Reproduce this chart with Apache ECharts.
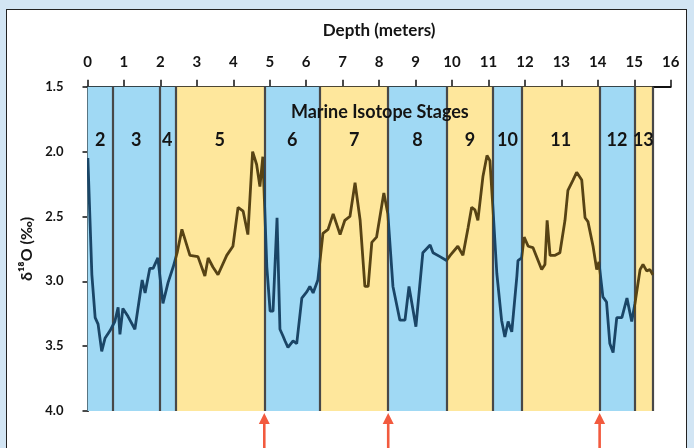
<!DOCTYPE html>
<html><head><meta charset="utf-8">
<script src="https://cdn.jsdelivr.net/npm/echarts@6/dist/echarts.min.js"></script>
<style>
html,body{margin:0;padding:0;background:#d2e5f4;width:694px;height:448px;overflow:hidden;position:relative;}
#panel{position:absolute;left:6px;top:9px;width:681px;height:460px;background:#fff;border:1.5px solid #222;box-sizing:border-box;}
#c{position:absolute;left:0;top:0;width:694px;height:448px;}
</style>
</head><body><div id="panel"></div><div id="c"></div>
<script>
// Depth (m) and δ18O (‰)
const depth = [0.01,0.12,0.21,0.29,0.39,0.48,0.62,0.75,0.84,0.89,0.97,1.11,1.30,1.50,1.58,1.71,1.80,1.93,2.07,2.21,2.35,2.46,
  2.59,2.81,3.03,3.22,3.31,3.44,3.58,3.82,3.99,4.13,4.27,4.40,4.53,4.64,4.73,4.81,
  4.92,5.01,5.09,5.20,5.28,5.36,5.42,5.50,5.64,5.74,5.88,6.02,6.10,6.19,6.32,
  6.46,6.60,6.74,6.93,7.06,7.20,7.34,7.48,7.61,7.70,7.80,7.93,8.13,8.24,
  8.38,8.57,8.71,8.82,9.01,9.20,9.40,9.48,9.67,9.85,
  9.95,10.16,10.30,10.44,10.54,10.63,10.71,10.85,10.96,11.04,11.12,
  11.23,11.36,11.45,11.54,11.64,11.78,11.81,11.91,
  11.98,12.09,12.22,12.46,12.55,12.61,12.69,12.83,12.96,13.10,13.18,13.32,13.42,13.56,13.65,13.73,13.87,13.97,14.03,
  14.14,14.24,14.33,14.42,14.52,14.66,14.80,14.93,15.02,
  15.16,15.24,15.34,15.43,15.51];
const d18O = [2.05,2.95,3.28,3.33,3.54,3.44,3.38,3.31,3.20,3.41,3.21,3.27,3.37,2.99,3.09,2.90,2.90,2.82,3.17,3.01,2.89,2.78,
  2.60,2.80,2.81,2.96,2.82,2.89,2.95,2.80,2.73,2.43,2.46,2.64,2.00,2.10,2.27,2.04,
  2.89,3.23,3.23,2.51,3.37,3.42,3.46,3.51,3.46,3.48,3.13,3.08,3.04,3.09,2.99,
  2.63,2.60,2.48,2.64,2.53,2.50,2.24,2.53,3.04,3.04,2.70,2.66,2.32,2.48,
  3.04,3.30,3.30,3.04,3.35,2.78,2.72,2.78,2.81,2.84,
  2.80,2.73,2.80,2.59,2.43,2.45,2.53,2.19,2.03,2.07,2.42,
  2.94,3.30,3.43,3.31,3.39,2.96,2.84,2.82,
  2.66,2.73,2.74,2.91,2.87,2.53,2.80,2.80,2.78,2.53,2.30,2.22,2.16,2.22,2.51,2.54,2.73,2.91,2.85,
  3.12,3.16,3.48,3.55,3.28,3.28,3.13,3.31,3.17,
  2.91,2.87,2.92,2.91,2.95];
// Marine isotope stage boundaries (m) and names
const stageBounds = [0, 0.70, 1.97, 2.41, 4.85, 6.38, 8.25, 9.86, 11.12, 11.92, 14.05, 15.00, 15.50];
const stageNames = ['2','3','4','5','6','7','8','9','10','11','12','13'];
const stageKind = ['g','g','g','i','g','i','g','i','g','i','g','i']; // g = glacial (blue), i = interglacial (yellow)
const arrowDepths = [4.85, 8.25, 14.05];

const bandColor = {g:'#a0d9f4', i:'#fee79c'};
const lineColor = {g:'#1a4566', i:'#574314'};
const FONT = 'Lato';
const TXT = '#141414';

const chart = echarts.init(document.getElementById('c'), null, {renderer:'canvas'});

const areas = stageNames.map((n,i)=>[
  {xAxis: stageBounds[i], itemStyle:{color: bandColor[stageKind[i]], opacity:1}},
  {xAxis: stageBounds[i+1]}
]);
const bounds = stageBounds.slice(1).map(b=>({xAxis:b}));
const pieces = stageNames.map((n,i)=>({
  gte: stageBounds[i],
  lt: i === stageNames.length-1 ? 16.01 : stageBounds[i+1],
  color: lineColor[stageKind[i]]
}));
const labelData = stageNames.map((n,i)=>[(stageBounds[i]+stageBounds[i+1])/2, 1.91, n]);

const labelStyle = {show: true, position: 'inside', formatter: p => p.value[2], opacity: 1,
  fontFamily: FONT, fontWeight: 'bold', fontSize: 18, color: TXT};

chart.setOption({
  backgroundColor: 'transparent',
  animation: false,
  grid: {left: 87.5, right: 23.3, top: 86.7, bottom: 37, containLabel: false},
  xAxis: {
    type: 'value', position: 'top', min: 0, max: 16, interval: 1,
    name: 'Depth (meters)', nameLocation: 'middle', nameGap: 48,
    nameTextStyle: {fontFamily: FONT, fontWeight: 'bold', fontSize: 17, color: TXT},
    axisLine: {show: true, onZero: false, lineStyle: {color: '#111', width: 2}},
    axisTick: {show: true, inside: false, length: 7, lineStyle: {color: '#111', width: 1.5}},
    axisLabel: {fontFamily: FONT, fontWeight: 'bold', fontSize: 15, color: TXT, margin: 17},
    splitLine: {show: false}
  },
  yAxis: {
    type: 'value', inverse: true, min: 1.5, max: 4.0, interval: 0.5,
    name: 'δ¹⁸O (‰)', nameLocation: 'middle', nameGap: 50,
    nameTextStyle: {fontFamily: FONT, fontWeight: 'bold', fontSize: 16, color: TXT},
    axisLine: {show: true, onZero: false, lineStyle: {color: '#111', width: 2}},
    axisTick: {show: true, inside: false, length: 5, lineStyle: {color: '#111', width: 1.5}},
    axisLabel: {fontFamily: FONT, fontWeight: 'bold', fontSize: 13, color: TXT, margin: 24,
      formatter: v => v.toFixed(1)},
    splitLine: {show: false}
  },
  visualMap: {type: 'piecewise', show: false, dimension: 0, seriesIndex: 0, pieces: pieces},
  series: [
    {
      type: 'line', z: 5, showSymbol: false, silent: true,
      data: depth.map((d,i)=>[d, d18O[i]]),
      lineStyle: {width: 2.8}
    },
    {
      type: 'line', z: 1, data: [], silent: true,
      markArea: {silent: true, data: areas},
      markLine: {silent: true, symbol: ['none','none'], label: {show: false},
        lineStyle: {color: '#484848', width: 2.2, type: 'solid'}, data: bounds}
    },
    {
      type: 'scatter', z: 6, symbolSize: 0, silent: true,
      itemStyle: {opacity: 1},
      data: labelData,
      label: labelStyle
    },
    {
      type: 'scatter', z: 6, symbolSize: 0, silent: true,
      itemStyle: {opacity: 1},
      data: [[8.02, 1.695, 'Marine Isotope Stages']],
      label: labelStyle
    }
  ]
});

// Red arrows below the plot at selected stage boundaries, positioned via the chart's scales
const arrows = [];
arrowDepths.forEach(d=>{
  const p = chart.convertToPixel({gridIndex: 0}, [d, 4.0]);
  const x = p[0], y = p[1];
  arrows.push({type:'line', silent:true, shape:{x1:x, y1:452, x2:x, y2:y+8}, style:{stroke:'#f25a3e', lineWidth:2.6}});
  arrows.push({type:'polygon', silent:true, shape:{points:[[x, y+2],[x-5.5, y+13],[x+5.5, y+13]]}, style:{fill:'#f25a3e'}});
});
chart.setOption({graphic: {elements: arrows}});
</script>
</body></html>
